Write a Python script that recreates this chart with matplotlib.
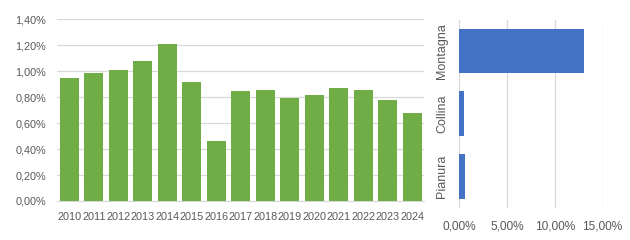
import matplotlib
matplotlib.use("Agg")
import matplotlib.pyplot as plt
from matplotlib.ticker import FuncFormatter

years = ["2010", "2011", "2012", "2013", "2014", "2015", "2016", "2017",
         "2018", "2019", "2020", "2021", "2022", "2023", "2024"]
rates = [0.95, 0.985, 1.01, 1.077, 1.21, 0.915, 0.46, 0.846,
         0.854, 0.79, 0.815, 0.87, 0.854, 0.777, 0.677]

zones = ["Pianura", "Collina", "Montagna"]
zone_rates = [0.55, 0.45, 13.05]

green = "#70AD47"
blue = "#4472C4"
txt = "#595959"
grid = "#D9D9D9"

plt.rcParams['font.family'] = ['Liberation Sans', 'DejaVu Sans']

fig = plt.figure(figsize=(6.3, 2.4), dpi=100)

def pct(v, pos):
    return ("%.2f%%" % v).replace(".", ",")

ax1 = fig.add_axes([0.0905, 0.1625, 0.5833, 0.758])
x = list(range(len(years)))
ax1.bar(x, rates, width=0.78, color=green, zorder=3)
ax1.set_xlim(-0.5, len(years) - 0.5)
ax1.set_ylim(0, 1.4)
ax1.set_yticks([0, 0.2, 0.4, 0.6, 0.8, 1.0, 1.2, 1.4])
ax1.yaxis.set_major_formatter(FuncFormatter(pct))
ax1.set_xticks(x)
ax1.set_xticklabels(years)
ax1.grid(axis='y', color=grid, linewidth=0.9, zorder=0)
for s in ["top", "right", "left"]:
    ax1.spines[s].set_visible(False)
ax1.spines["bottom"].set_color(grid)
ax1.tick_params(axis='both', length=0, labelsize=7.8, labelcolor=txt)
ax1.tick_params(axis='x', pad=8)
ax1.tick_params(axis='y', pad=8)

ax2 = fig.add_axes([0.729, 0.134, 0.2276, 0.784])
y = list(range(len(zones)))
ax2.barh(y, zone_rates, height=0.71, color=blue, zorder=3)
ax2.set_ylim(-0.5, len(zones) - 0.5)
ax2.set_xlim(0, 15)
ax2.set_xticks([0, 5, 10, 15])
ax2.xaxis.set_major_formatter(FuncFormatter(pct))
ax2.set_yticks(y)
ax2.set_yticklabels(zones, rotation=90, va='center')
ax2.grid(axis='x', color=grid, linewidth=0.9, zorder=0)
for s in ["top", "right", "left", "bottom"]:
    ax2.spines[s].set_visible(False)
ax2.tick_params(axis='x', length=0, labelsize=8.6, labelcolor=txt, pad=9)
ax2.tick_params(axis='y', length=0, labelsize=9, labelcolor=txt, pad=8)

fig.savefig("out.png", dpi=100)
